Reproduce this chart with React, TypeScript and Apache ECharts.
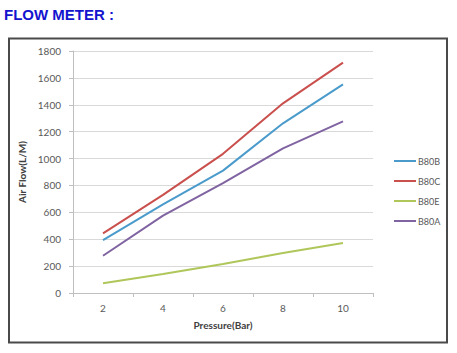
import React, { useEffect, useRef } from "react";
import * as echarts from "echarts";

const pressures = ["2", "4", "6", "8", "10"];
const seriesNames = ["B80B", "B80C", "B80E", "B80A"];
const b80b = [394, 660, 910, 1262, 1552];
const b80c = [444, 730, 1035, 1411, 1713];
const b80e = [72, 141, 215, 298, 372];
const b80a = [277, 575, 818, 1076, 1277];
const colors = ["#4A9BCB", "#C9504D", "#AFC75A", "#8064A2"];

export default function App() {
  const ref = useRef<HTMLDivElement>(null);
  useEffect(() => {
    document.body.style.margin = "0";
    const chart = echarts.init(ref.current!, null, { renderer: "svg" });
    const data = [b80b, b80c, b80e, b80a];
    const font = "Lato, 'Open Sans', sans-serif";
    chart.setOption({
      animation: false,
      backgroundColor: "#ffffff",
      graphic: [
        {
          type: "text",
          left: 4,
          top: 7,
          style: {
            text: "FLOW METER :",
            font: "bold 15px 'Liberation Sans', Arial, sans-serif",
            fill: "#1414CF",
          },
        },
        {
          type: "rect",
          shape: { x: 9, y: 38.5, width: 438, height: 304 },
          style: { fill: "none", stroke: "#4a4a4a", lineWidth: 2 },
          z: -1,
        },
      ],
      grid: { left: 73, right: 84, top: 51, bottom: 60 },
      xAxis: {
        type: "category",
        data: pressures,
        boundaryGap: true,
        name: "Pressure(Bar)",
        nameLocation: "middle",
        nameGap: 27,
        nameTextStyle: { fontFamily: font, fontSize: 10, fontWeight: "bold", color: "#404040" },
        axisLine: { lineStyle: { color: "#BFBFBF", width: 1 } },
        axisTick: { show: true, alignWithLabel: false, length: 4, lineStyle: { color: "#BFBFBF" } },
        axisLabel: { fontFamily: font, fontSize: 10, color: "#595959", margin: 10 },
      },
      yAxis: {
        type: "value",
        min: 0,
        max: 1800,
        interval: 200,
        name: "Air Flow(L/M)",
        nameLocation: "middle",
        nameGap: 41,
        nameTextStyle: { fontFamily: font, fontSize: 10, fontWeight: "bold", color: "#404040" },
        axisLine: { show: true, lineStyle: { color: "#BFBFBF", width: 1 } },
        axisTick: { show: true, length: 4, lineStyle: { color: "#BFBFBF" } },
        axisLabel: {
          fontFamily: font,
          fontSize: 10,
          color: "#595959",
          margin: 12,
          formatter: (v: number) => String(v),
        },
        splitLine: { lineStyle: { color: "#D9D9D9", width: 1 } },
      },
      legend: {
        orient: "vertical",
        left: 389,
        top: 150,
        itemWidth: 22,
        itemHeight: 2,
        itemGap: 8,
        icon: "rect",
        data: seriesNames,
        textStyle: { fontFamily: font, fontSize: 9, color: "#595959", lineHeight: 12, padding: [0, 0, 0, -3] },
      },
      series: seriesNames.map((n, i) => ({
        name: n,
        type: "line",
        data: data[i],
        symbol: "none",
        smooth: false,
        lineStyle: { color: colors[i], width: 2 },
        itemStyle: { color: colors[i] },
      })),
    });
    return () => chart.dispose();
  }, []);
  return <div ref={ref} style={{ width: 457, height: 353 }} />;
}
